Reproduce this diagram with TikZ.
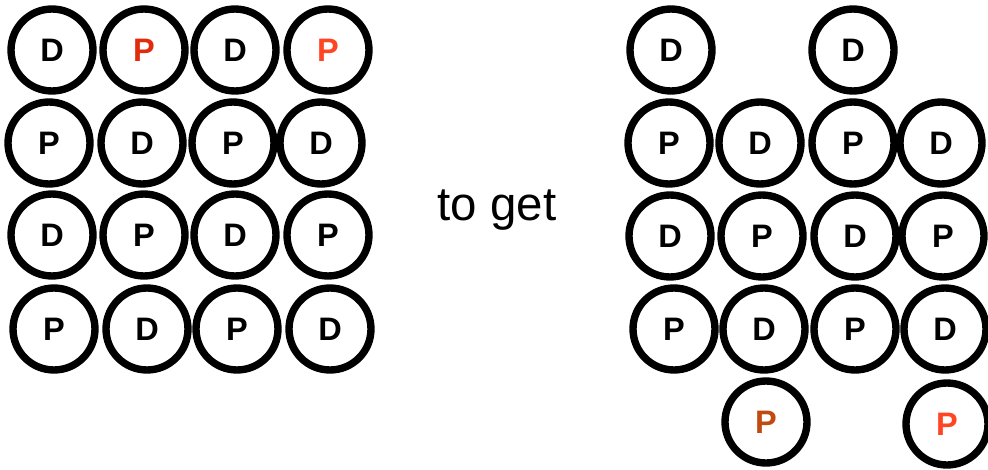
\documentclass[tikz,border=0pt]{standalone}
\usepackage{fontspec}
\setmainfont{Liberation Sans}
\definecolor{darkP}{HTML}{E22A0C}
\definecolor{lightP}{HTML}{FF4522}
\definecolor{brownP}{HTML}{C04A10}
\begin{document}
\begin{tikzpicture}[x=0.02cm, y=-0.02cm,
    ball/.style={circle, draw, line width=4.2pt, minimum size=1.64cm, inner sep=0pt,
        font=\bfseries\fontsize{18.5}{18.5}\selectfont}]
    \useasboundingbox (0,0) rectangle (988,470);
    % Lưới bên trái
    \foreach \x/\y/\t/\n in {52/50/D/a1, 235/50/D/a3,
        49/143/P/b1, 142/143/D/b2, 233/143/P/b3, 321/143/D/b4,
        52/235/D/c1, 144/235/P/c2, 235/235/D/c3, 328/235/P/c4,
        54/329/P/d1, 147/329/D/d2, 237/329/P/d3, 330/329/D/d4} {
        \node[ball] (l\n) at (\x,\y) {\t};
    }
    \node[ball, text=darkP] (la2) at (144,50) {P};
    \node[ball, text=lightP] (la4) at (328,50) {P};
    % Chữ ở giữa
    \node[font=\fontsize{27}{27}\selectfont] (toget) at (497,210) {to get};
    % Lưới bên phải
    \foreach \x/\y/\t/\n in {671/50/D/a1, 853/50/D/a3,
        669/143/P/b1, 760/143/D/b2, 853/143/P/b3, 941/143/D/b4,
        670/236/D/c1, 762/236/P/c2, 855/236/D/c3, 943/236/P/c4,
        674/329/P/d1, 764/329/D/d2, 855/329/P/d3, 945/329/D/d4} {
        \node[ball] (r\n) at (\x,\y) {\t};
    }
    \node[ball, text=brownP] (re2) at (766,422) {P};
    \node[ball, text=lightP] (re4) at (947,424) {P};
\end{tikzpicture}
\end{document}
